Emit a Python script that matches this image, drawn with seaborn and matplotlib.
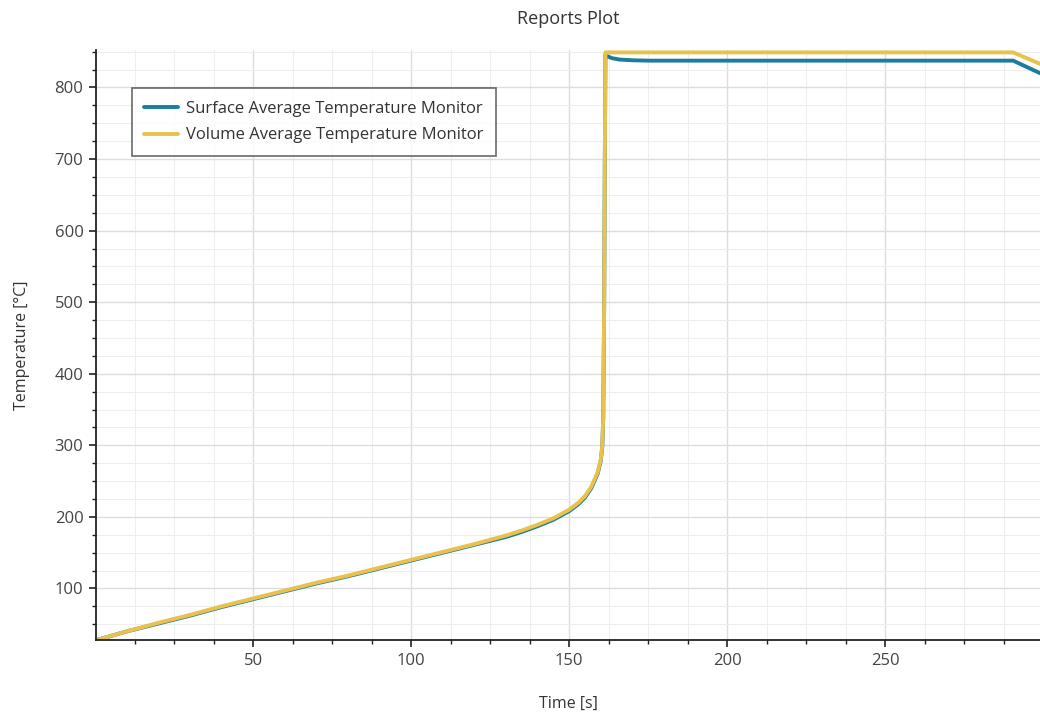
import matplotlib
matplotlib.use("Agg")
import matplotlib.pyplot as plt
from matplotlib.ticker import MultipleLocator
import seaborn as sns
import pandas as pd

# Report monitor samples: time [s] and average temperatures [°C]
time_s = [0.5, 10, 20, 30, 40, 50, 60, 70, 80, 90, 100, 110, 120, 130, 135,
          140, 145, 150, 153, 155, 157, 158, 159, 160, 160.5, 160.8, 161.1,
          161.3, 161.5, 162, 163.5, 166, 170, 175, 200, 250, 290.5, 299]

surface_avg = [28, 40, 51, 62, 74, 85, 96, 107, 117, 128, 139, 150, 161, 172, 179,
               187, 196, 208, 218, 227, 240, 250, 260, 278, 298, 338, 498,
               698, 846, 844, 841, 839, 838, 837.5, 837.5, 837.5, 837.5, 820]

volume_avg = [28, 40, 52, 63, 75, 86, 97, 108, 118, 129, 140, 151, 162, 174, 181,
              189, 198, 210, 220, 229, 242, 252, 262, 280, 300, 340, 500,
              700, 849, 849, 849, 849, 849, 849, 849, 849, 849, 833]

series_names = ["Surface Average Temperature Monitor", "Volume Average Temperature Monitor"]
series_colors = ["#1b7c9e", "#e8c24c"]

df = pd.concat([
    pd.DataFrame({"Time": time_s, "Temperature": surface_avg, "Monitor": series_names[0]}),
    pd.DataFrame({"Time": time_s, "Temperature": volume_avg, "Monitor": series_names[1]}),
], ignore_index=True)

sns.set_theme(style="white")
plt.rcParams["font.family"] = ["Open Sans", "DejaVu Sans"]

fig = plt.figure(figsize=(10.4, 7.18), dpi=100)
ax = fig.add_axes([0.0923, 0.1086, 0.9077, 0.8214])

sns.lineplot(data=df, x="Time", y="Temperature", hue="Monitor",
             palette=dict(zip(series_names, series_colors)),
             linewidth=2.8, sort=False, estimator=None, ax=ax, legend=True)

ax.set_xlim(0.3, 299)
ax.set_ylim(28, 852)

ax.xaxis.set_major_locator(MultipleLocator(50))
ax.xaxis.set_minor_locator(MultipleLocator(12.5))
ax.yaxis.set_major_locator(MultipleLocator(100))
ax.yaxis.set_minor_locator(MultipleLocator(25))

ax.grid(which="major", color="#dddddd", linewidth=1.0)
ax.grid(which="minor", color="#eeeeee", linewidth=0.8)
ax.set_axisbelow(True)

for side in ("top", "right"):
    ax.spines[side].set_visible(False)
for side in ("left", "bottom"):
    ax.spines[side].set_color("#222222")
    ax.spines[side].set_linewidth(1.3)

ax.tick_params(which="major", direction="out", length=5, width=1.2, color="#222222",
               labelsize=12, labelcolor="#444444", left=True, bottom=True, pad=4)
ax.tick_params(which="minor", direction="out", length=3, width=1.0, color="#222222",
               left=True, bottom=True)

ax.set_xlabel("Time [s]", fontsize=11.5, color="#333333", labelpad=20)
ax.set_ylabel("Temperature [°C]", fontsize=11.5, color="#333333", labelpad=18)
ax.set_title("Reports Plot", fontsize=13, color="#333333", pad=19)

leg = ax.legend(loc="upper left", bbox_to_anchor=(0.038, 0.936), borderaxespad=0,
                fontsize=12, frameon=True, fancybox=False, handlelength=2.0,
                handletextpad=0.5, borderpad=0.75, labelspacing=0.65, title=None)
leg.get_frame().set_edgecolor("#444444")
leg.get_frame().set_linewidth(1.2)
for t in leg.get_texts():
    t.set_color("#333333")
for h in leg.get_lines():
    h.set_linewidth(2.8)

fig.savefig("out.png", dpi=100, facecolor="white")
